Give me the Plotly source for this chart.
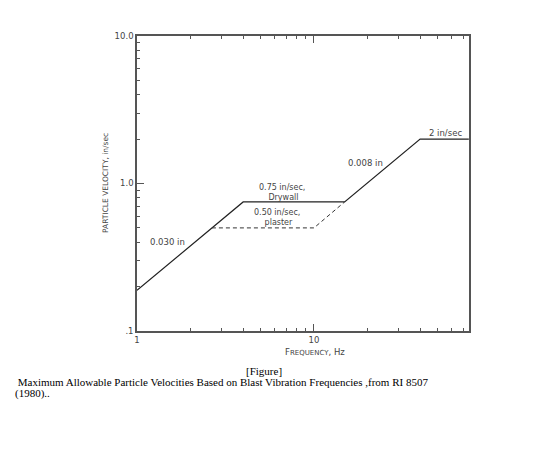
import plotly.graph_objects as go

# Data (frequency in Hz, particle velocity in in/sec)
drywall_freq = [1.0, 3.98, 14.9, 39.8, 75.0]
drywall_vel = [0.1885, 0.75, 0.75, 2.0, 2.0]
plaster_freq = [2.65, 10.0, 14.9]
plaster_vel = [0.5, 0.5, 0.75]

x_major = [1, 10]
x_major_text = ["1", "10"]
x_minor = [2, 3, 4, 5, 6, 7, 8, 9, 20, 30, 40, 50, 60, 70]
y_major = [0.1, 1, 10]
y_major_text = [".1", "1.0", "10.0"]
y_minor = [0.2, 0.3, 0.4, 0.5, 0.6, 0.7, 0.8, 0.9, 2, 3, 4, 5, 6, 7, 8, 9]

W, H = 556, 457
L, R, T, B = 137, 469, 36, 331


def px(x, y):
    return (x - L) / (R - L), (B - y) / (B - T)


fig = go.Figure()
fig.add_trace(go.Scatter(x=drywall_freq, y=drywall_vel, mode="lines",
                         line=dict(color="#222222", width=1.2), showlegend=False))
fig.add_trace(go.Scatter(x=plaster_freq, y=plaster_vel, mode="lines",
                         line=dict(color="#333333", width=1, dash="4px,3px"), showlegend=False))

lab_font = dict(family="DejaVu Sans", size=8.5, color="#444444")
anns = []


def add(text, x, y, font=lab_font, xanchor="center", textangle=0):
    ax, ay = px(x, y)
    anns.append(dict(text=text, x=ax, y=ay, xref="paper", yref="paper", showarrow=False,
                     xanchor=xanchor, yanchor="middle", font=font, textangle=textangle,
                     borderpad=0))


two_font = dict(family="DejaVu Sans", size=8, color="#444444")
add("0.75 in/sec,<br> Drywall", 282, 192, font=two_font)
add("0.50 in/sec,<br> plaster", 277, 217.5, font=two_font)
add("0.030 in", 167, 242)
add("0.008 in", 365, 163)
add("2 in/sec", 445, 133)
add("PARTICLE VELOCITY, in/sec", 105, 183,
    font=dict(family="DejaVu Sans", size=7.5, color="#444444"), textangle=-90)
add("F<span style='font-size:7px'>REQUENCY</span>, Hz", 315, 352,
    font=dict(family="DejaVu Sans", size=8.5, color="#444444"))

cap_font = dict(family="Liberation Serif", size=11, color="#000000")
add("[Figure]", 264, 371, font=cap_font)
add(" Maximum Allowable Particle Velocities Based on Blast Vibration Frequencies ,from RI 8507",
    14, 382, font=cap_font, xanchor="left")
add("(1980)..", 14, 393, font=cap_font, xanchor="left")

axis_common = dict(type="log", showline=True, linecolor="#555555", linewidth=1.5,
                   ticks="inside", ticklen=7, tickcolor="#555555",
                   showgrid=False, zeroline=False,
                   tickfont=dict(family="DejaVu Sans", size=8.5, color="#444444"))

fig.update_layout(
    width=W, height=H,
    margin=dict(l=L, r=W - R, t=T, b=H - B),
    paper_bgcolor="white", plot_bgcolor="white",
    annotations=anns,
    xaxis=dict(range=[0, 1.876], tickmode="array", tickvals=x_major, ticktext=x_major_text,
               mirror="ticks",
               minor=dict(tickmode="array", tickvals=x_minor, ticks="inside", ticklen=3,
                          tickcolor="#555555", showgrid=False),
               **axis_common),
    yaxis=dict(range=[-1, 1], tickmode="array", tickvals=y_major, ticktext=y_major_text,
               mirror=True,
               minor=dict(tickmode="array", tickvals=y_minor, ticks="inside", ticklen=3,
                          tickcolor="#555555", showgrid=False),
               **axis_common),
)

fig.write_html("out.html")
